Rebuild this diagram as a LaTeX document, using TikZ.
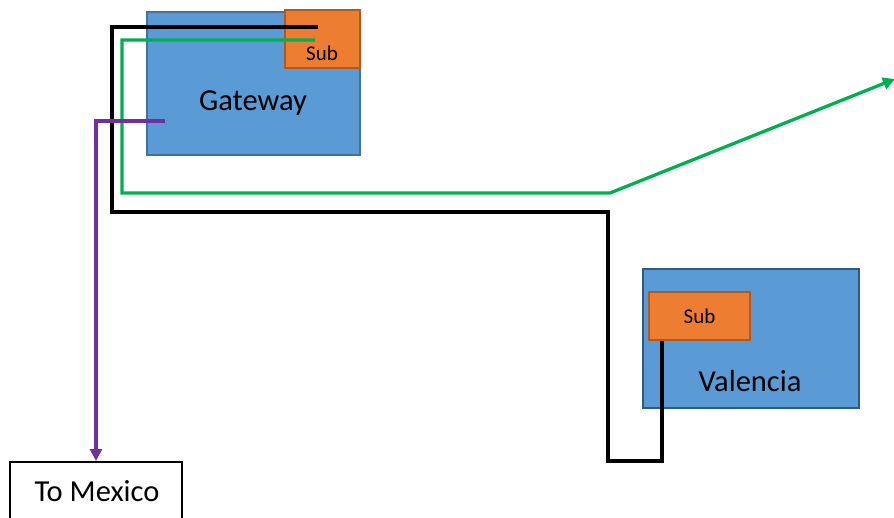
\documentclass[tikz,border=0pt]{standalone}
\usepackage{fontspec}
\setmainfont{Carlito}
\usetikzlibrary{arrows.meta}
\definecolor{boxblue}{HTML}{5B9BD5}
\definecolor{boxblueline}{HTML}{41719C}
\definecolor{boxbluedark}{HTML}{2E5A87}
\definecolor{suborange}{HTML}{ED7D31}
\definecolor{suborangeline}{HTML}{AE5A21}
\definecolor{linkgreen}{HTML}{00B050}
\definecolor{linkpurple}{HTML}{7030A0}
\tikzset{
  site/.style={draw=boxblueline, fill=boxblue, line width=2.5pt, inner sep=0pt},
  subbox/.style={draw=suborangeline, fill=suborange, line width=2.5pt, inner sep=0pt,
    font=\fontsize{21}{25}\selectfont},
  plainbox/.style={draw=black, line width=2pt, fill=white, inner sep=0pt},
  bigtext/.style={font=\fontsize{30.5}{34}\selectfont},
  smalltext/.style={font=\fontsize{21}{25}\selectfont},
  link/.style={line width=3.3pt, line join=miter},
  tip/.style={-{Triangle[length=12pt,width=12pt]}}
}
\begin{document}
\begin{tikzpicture}[x=1pt,y=-1pt]
\clip (0,0) rectangle (894,517);
\fill[white] (0,0) rectangle (894,517);
% Gateway
\node[site, minimum width=213pt, minimum height=143pt] (gw) at (253.5,83.5) {};
\node[bigtext] at (253,103) (gwlabel) {Gateway};
\node[subbox, minimum width=75pt, minimum height=58pt] (gwsub) at (322.5,39) {};
\node[smalltext] at (322,53) (gwsublabel) {Sub};
% Valencia
\node[site, draw=boxbluedark, minimum width=216pt, minimum height=139pt] (val) at (751,338.5) {};
\node[bigtext] at (750,381) (vallabel) {Valencia};
\node[subbox, minimum width=101pt, minimum height=48pt] (valsub) at (699.5,316) {Sub};
% To Mexico
\node[plainbox, minimum width=172pt, minimum height=62pt] (mex) at (96,493) {};
\node[bigtext] at (97,491) (mexlabel) {To Mexico};
% connector endpoints
\coordinate (bstart) at (318,27);
\coordinate (gstart) at (315,40);
\coordinate (gend) at (895,79);
\coordinate (pstart) at (165,121);
% black link
\draw[link, black] (bstart) -- (112,27) -- (112,212) -- (608,212) -- (608,461) -- (662,461) -- (valsub.south -| 662,0);
% green link
\draw[link, linkgreen, tip] (gstart) -- (122,40) -- (122,193) -- (610,193) -- (gend);
% purple link
\draw[link, linkpurple, tip] (pstart) -- (96,121) -- (mex.north -| 96,0);
\end{tikzpicture}
\end{document}
